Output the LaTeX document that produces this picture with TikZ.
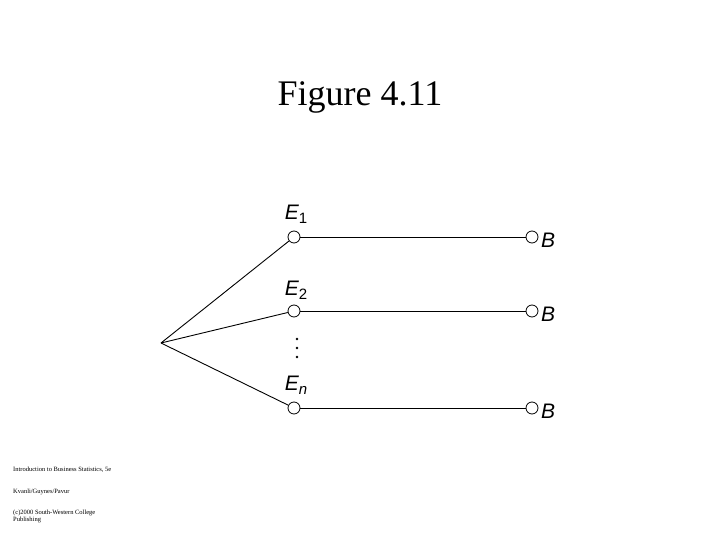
\documentclass[tikz,border=0pt]{standalone}
\usepackage{fontspec}
\setmainfont{Liberation Serif}
\newfontfamily\lsans{Liberation Sans}
\begin{document}
\begin{tikzpicture}[x=1pt,y=-1pt,
  dot/.style={circle,draw,line width=0.8pt,inner sep=0pt,minimum size=12pt,fill=white},
  lab/.style={font=\lsans\itshape\fontsize{21}{21}\selectfont,inner sep=0pt},
  edge/.style={line width=0.9pt},
  note/.style={font=\fontsize{6.5}{7}\selectfont,anchor=west,inner sep=0pt,align=left}]
\useasboundingbox (0,0) rectangle (720,540);
\node (title) at (360,97) {\fontsize{36}{36}\selectfont Figure 4.11};
\coordinate (r) at (161,343);
\node[dot] (e1) at (294,237) {};
\node[dot] (e2) at (294,311) {};
\node[dot] (en) at (294,408) {};
\node[dot] (b1) at (532,237) {};
\node[dot] (b2) at (532,311) {};
\node[dot] (bn) at (532,408) {};
\draw[edge] (r) -- (e1); \draw[edge] (r) -- (e2); \draw[edge] (r) -- (en);
\draw[edge] (e1) -- (b1); \draw[edge] (e2) -- (b2); \draw[edge] (en) -- (bn);
\node[lab] (le1) at (296,214) {E\raisebox{-0.35ex}{\fontsize{15}{15}\selectfont\upshape 1}};
\node[lab] (le2) at (296,290) {E\raisebox{-0.35ex}{\fontsize{15}{15}\selectfont\upshape 2}};
\node[lab] (len) at (296,385) {E\raisebox{-0.35ex}{\fontsize{15}{15}\selectfont n}};
\node[lab,anchor=west] (lb1) at (541,240) {B};
\node[lab,anchor=west] (lb2) at (541,314) {B};
\node[lab,anchor=west] (lbn) at (541,411) {B};
\foreach \yy in {339,348,357} \fill (297,\yy) circle (1.4);
\node[note] (n1) at (13,470) {Introduction to Business Statistics, 5e};
\node[note] (n2) at (13,492) {Kvanli/Guynes/Pavur};
\node[note] (n3) at (13,516) {(c)2000 South-Western College\\Publishing};
\end{tikzpicture}
\end{document}
